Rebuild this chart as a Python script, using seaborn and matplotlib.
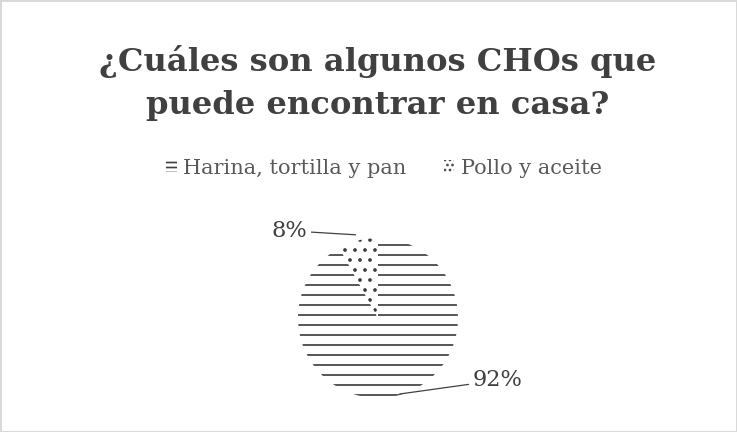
import matplotlib
matplotlib.use("Agg")
import matplotlib.pyplot as plt
import seaborn as sns
from matplotlib.patches import Patch

categories = ["Harina, tortilla y pan", "Pollo y aceite"]
values = [92, 8]
labels = ["92%", "8%"]
hatches = ["-", "."]

sns.set_theme(style="white")
plt.rcParams["font.family"] = ["DejaVu Serif"]
plt.rcParams["hatch.linewidth"] = 2.0

DPI = 60
W, H = 737, 432
fig = plt.figure(figsize=(W / DPI, H / DPI), dpi=DPI)
fig.patch.set_facecolor("white")
fig.patch.set_edgecolor("#d9d9d9")
fig.patch.set_linewidth(1.5)

cx, cy, r = 378, 318, 80
ax = fig.add_axes([(cx - r) / W, (H - cy - r) / H, 2 * r / W, 2 * r / H])
wedges, _ = ax.pie(values, startangle=90, counterclock=False, radius=1,
                   colors=["white", "white"],
                   wedgeprops=dict(edgecolor="#3a3a3a", linewidth=0))
for w, h in zip(wedges, hatches):
    w.set_hatch(h)
ax.set_xlim(-1, 1)
ax.set_ylim(-1, 1)
ax.set_aspect("auto")
ax.axis("off")

txt_color = "#404040"
# 92% label
ax.annotate(labels[0], xy=(0.27, -0.95), xytext=(1.18, -0.78),
            fontsize=27, color=txt_color, family="DejaVu Serif",
            ha="left", va="center", annotation_clip=False,
            arrowprops=dict(arrowstyle="-", color="#404040", lw=1.5,
                            shrinkA=2, shrinkB=0))
# 8% label
ax.annotate(labels[1], xy=(-0.28, 1.04), xytext=(-0.88, 1.09),
            fontsize=27, color=txt_color, family="DejaVu Serif",
            ha="right", va="center", annotation_clip=False,
            arrowprops=dict(arrowstyle="-", color="#404040", lw=1.5,
                            shrinkA=2, shrinkB=0))

fig.text(378 / W, 1 - 83 / H, "¿Cuáles son algunos CHOs que\npuede encontrar en casa?",
         ha="center", va="center", fontsize=38.5, fontweight="bold",
         color="#404040", linespacing=1.52)

handles = [Patch(facecolor="white", edgecolor="#404040", hatch="--", linewidth=0),
           Patch(facecolor="white", edgecolor="#404040", hatch="..", linewidth=0)]
leg = fig.legend(handles, categories, loc="center", bbox_to_anchor=(384 / W, 1 - 168 / H),
                 ncol=2, frameon=False, fontsize=25, handlelength=0.5, handleheight=0.45,
                 handletextpad=0.3, columnspacing=1.8)
for t in leg.get_texts():
    t.set_color("#595959")

fig.savefig("out.png", dpi=DPI, facecolor=fig.get_facecolor(), edgecolor=fig.get_edgecolor())
